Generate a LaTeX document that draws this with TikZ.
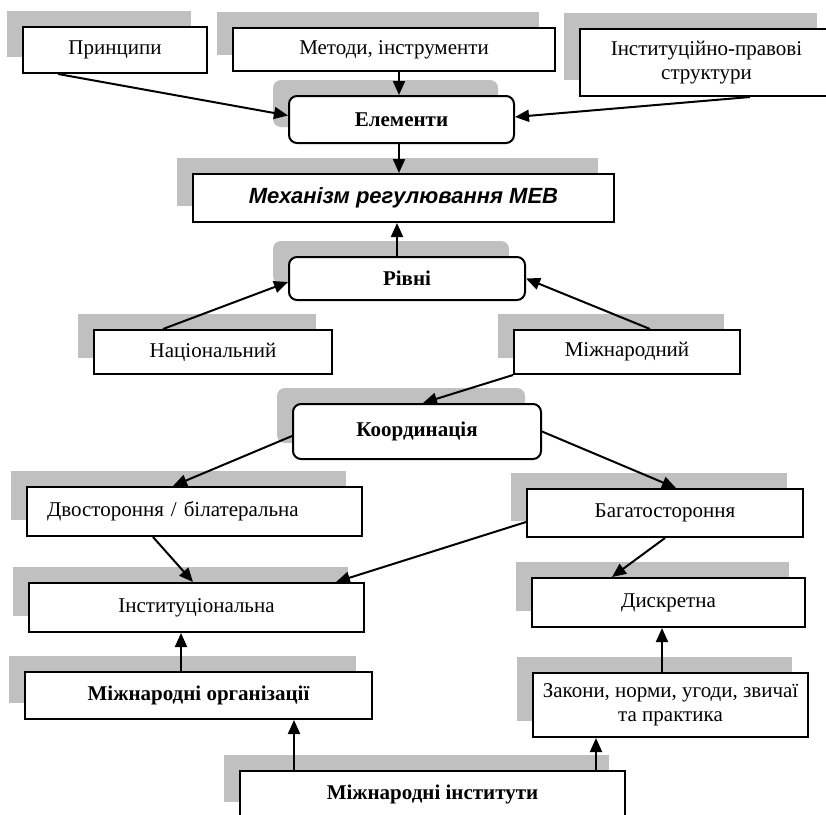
\documentclass[tikz,border=0pt]{standalone}
\usepackage{fontspec}
\setmainfont{Liberation Serif}
\newfontfamily\arialfont{Liberation Sans}
\usetikzlibrary{arrows.meta, shadows}

\definecolor{shgray}{RGB}{192,192,192}

\begin{document}
\begin{tikzpicture}[x=1pt, y=-1pt,
    box/.style={draw, line width=2pt, fill=white, inner sep=0pt, font=\fontsize{21}{24}\selectfont,
      drop shadow={shadow xshift=-16pt, shadow yshift=16pt, fill=shgray, opacity=1}},
    rbox/.style={box, rounded corners=8pt, font=\fontsize{21}{24}\selectfont\bfseries},
    arr/.style={line width=2pt, -{Triangle[length=14pt, width=12pt]}}]
          \useasboundingbox (0, 0) rectangle (826, 814);
          \clip (0, 0) rectangle (826, 814);
          % top row
          \node[box, minimum width=184pt, minimum height=46pt] (princ) at (115, 50) {Принципи};
          \node[box, minimum width=322pt, minimum height=43pt] (metod) at (394, 49.5) {Методи, інструменти};
          \node[box, minimum width=253pt, minimum height=67pt, align=center] (instpr) at (706.5, 62.5) {Інституційно-правові\\структури};
          \node[rbox, minimum width=225pt, minimum height=47pt] (elem) at (401.5, 119.5) {Елементи};
          \node[box, minimum width=421pt, minimum height=48pt, font=\arialfont\fontsize{22}{26}\selectfont\bfseries\itshape] (mech) at (403.5, 198) {Механізм регулювання МЕВ};
          % levels
          \node[rbox, minimum width=236pt, minimum height=43pt] (rivni) at (407, 278.5) {Рівні};
          \node[box, minimum width=238pt, minimum height=44pt] (nats) at (213, 352) {Національний};
          \node[box, minimum width=226pt, minimum height=44pt] (mizhn) at (627, 352) {Міжнародний};
          \node[rbox, minimum width=248pt, minimum height=55pt] (koord) at (417, 431.5) {Координація};
          % coordination
          \node[box, minimum width=335pt, minimum height=49pt, inner xsep=20pt, text width=295pt, align=left] (dvost) at (194.5, 511.5) {Двостороння / білатеральна};
          \node[box, minimum width=276pt, minimum height=48pt] (bahat) at (665, 513) {Багатостороння};
          \node[box, minimum width=335pt, minimum height=49pt] (instyt) at (196.5, 607.5) {Інституціональна};
          \node[box, minimum width=273pt, minimum height=49pt] (dyskr) at (668.5, 602.5) {Дискретна};
          \node[box, minimum width=347pt, minimum height=47pt, font=\fontsize{21}{24}\selectfont\bfseries] (mizhorg) at (198.5, 695.5) {Міжнародні організації};
          \node[box, minimum width=275pt, minimum height=64pt, align=center] (zakony) at (670.5, 705) {Закони, норми, угоди, звичаї\\та практика};
          \node[box, minimum width=385pt, minimum height=47pt, font=\fontsize{21}{24}\selectfont\bfseries] (mizhinst) at (432.5, 794.5) {Міжнародні інститути};
          % arrows
          \draw[arr] ([xshift=-57pt]princ.south) -- ([yshift=4pt]elem.west);
          \draw[arr] ([xshift=-2.5pt]elem.north |- metod.south) -- ([xshift=-2.5pt]elem.north);
          \draw[arr] ([xshift=43.5pt]instpr.south) -- ([yshift=2.5pt]elem.east);
          \draw[arr] ([xshift=-2.5pt]elem.south) -- ([xshift=-2.5pt]elem.south |- mech.north);
          \draw[arr] ([xshift=-10pt]rivni.north) -- ([xshift=-10pt]rivni.north |- mech.south);
          \draw[arr] ([xshift=-50pt]nats.north) -- ([yshift=-3.5pt]rivni.west);
          \draw[arr] ([xshift=23pt]mizhn.north) -- (rivni.east);
          \draw[arr] (mizhn.south west) -- ([xshift=6pt]koord.north);
          \draw[arr] ([yshift=-4.5pt]koord.west) -- ([xshift=-21.5pt]dvost.north);
          \draw[arr] (koord.east) -- ([xshift=11pt]bahat.north);
          \draw[arr] ([xshift=-41.5pt]dvost.south) -- ([xshift=-3.5pt]instyt.north);
          \draw[arr] ([yshift=-9pt]bahat.west) -- ([xshift=-29pt]instyt.north east);
          \draw[arr] (bahat.south) -- ([xshift=-56.5pt]dyskr.north);
          \draw[arr] ([xshift=-17.5pt]mizhorg.north) -- ([xshift=-17.5pt]mizhorg.north |- instyt.south);
          \draw[arr] ([xshift=-8.5pt]zakony.north) -- ([xshift=-8.5pt]zakony.north |- dyskr.south);
          \draw[arr] ([xshift=-138.5pt]mizhinst.north) -- ([xshift=-138.5pt]mizhinst.north |- mizhorg.south);
          \draw[arr] ([xshift=163.5pt]mizhinst.north) -- ([xshift=163.5pt]mizhinst.north |- zakony.south);
        \end{tikzpicture}
\end{document}
